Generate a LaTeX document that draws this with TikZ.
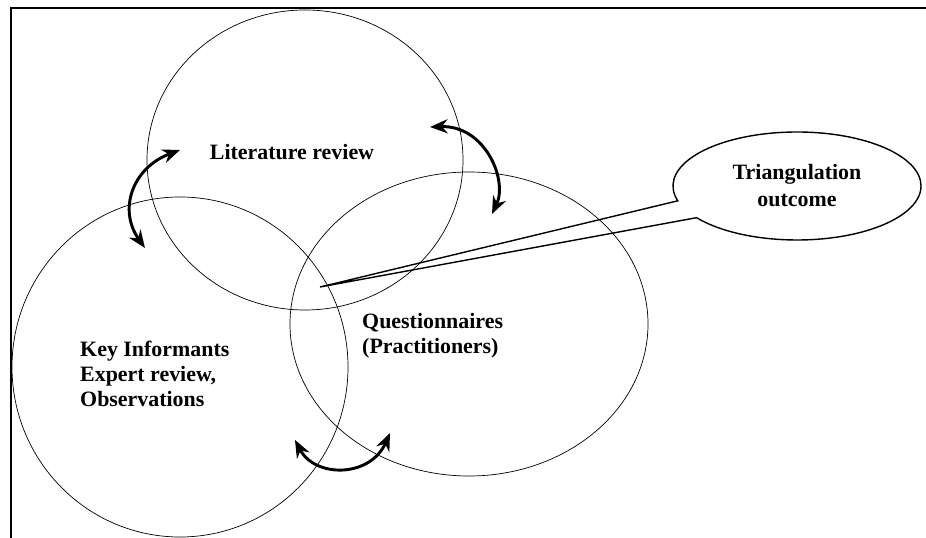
\documentclass[tikz,border=0pt]{standalone}
\usepackage{fontspec}
\setmainfont{Liberation Serif}
\usepackage{tikz}
\usetikzlibrary{positioning}
\usetikzlibrary{arrows.meta,shapes.geometric,shapes.callouts}

\begin{document}
\begin{tikzpicture}[x=0.03cm,y=0.03cm]
    \useasboundingbox (0,0) rectangle (926,538);
    %Frame
    \draw[line width=1.6pt] (926,530) -- (11,530) -- (11,0);
    %Circles
    \begin{scope}[every node/.style={ellipse,draw,line width=0.6pt,inner sep=0pt}]
        \node(lit)[minimum width=9.48cm,minimum height=9cm] at (305,378) {};
        \node(key)[minimum width=10.08cm,minimum height=10.2cm] at (180,171) {};
        \node(quest)[minimum width=10.74cm,minimum height=9.12cm] at (469,214) {};
    \end{scope}
    %Labels
    \begin{scope}[every node/.style={font=\bfseries\fontsize{18.7}{21}\selectfont,align=left,inner sep=0pt}]
        \node(littext) at (292,386) {Literature review};
        \node(keytext)[anchor=west] at (80,164) {Key Informants\\Expert review,\\Observations};
        \node(questtext)[anchor=west] at (362,202) {Questionnaires\\(Practitioners)};
    \end{scope}
    %Callout
    \coordinate (tip) at (320,251);
    \node(outcome)[ellipse callout,draw,line width=1.2pt,minimum width=7.44cm,minimum height=3.24cm,
        callout absolute pointer={(tip)},callout pointer arc=20,align=center,
        font=\bfseries\fontsize{18.7}{23}\selectfont] at (797,352) {Triangulation\\outcome};
    %Arrows
    \coordinate (a1) at (145,290);
    \coordinate (b1) at (180,388);
    \coordinate (a2) at (430,411);
    \coordinate (b2) at (492,324);
    \coordinate (a3) at (295,98);
    \coordinate (b3) at (390,105);
    \begin{scope}[line width=2.5pt, >={Stealth[length=15pt,width=12pt]}]
        \draw[<->] (a1) .. controls (118,328) and (132,370) .. (b1);
        \draw[<->] (a2) .. controls (485,413) and (508,358) .. (b2);
        \draw[<->] (a3) .. controls (315,60) and (370,60) .. (b3);
    \end{scope}
\end{tikzpicture}
\end{document}
